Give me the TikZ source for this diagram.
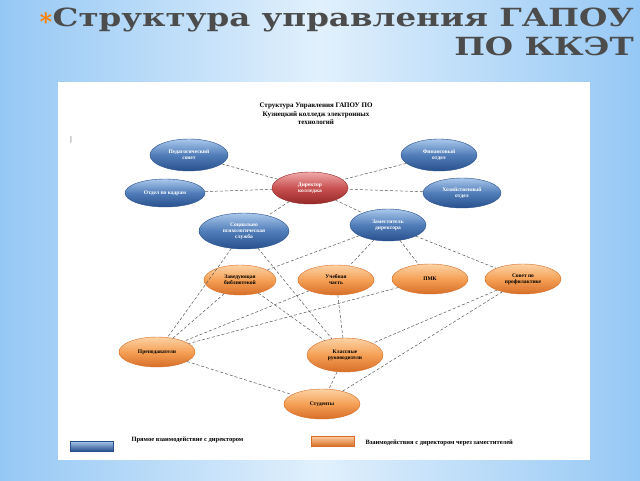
\documentclass[tikz,border=0pt]{standalone}
\usepackage{fontspec}
\setmainfont{Liberation Serif}
\newfontfamily\titlefont{DejaVu Serif}
\usetikzlibrary{shapes.geometric,shadings}
\definecolor{bTop}{RGB}{170,200,235}
\definecolor{bMid}{RGB}{80,125,185}
\definecolor{bBot}{RGB}{40,80,140}
\definecolor{oTop}{RGB}{252,210,165}
\definecolor{oMid}{RGB}{245,160,85}
\definecolor{oBot}{RGB}{215,110,40}
\definecolor{rTop}{RGB}{240,170,170}
\definecolor{rMid}{RGB}{200,80,80}
\definecolor{rBot}{RGB}{150,40,40}
\definecolor{bgA}{RGB}{150,200,245}
\definecolor{bgB}{RGB}{225,240,252}
\begin{document}
\begin{tikzpicture}[x=1pt,y=-1pt,
 bl/.style={ellipse,draw=bBot,line width=0.4pt,top color=bTop,bottom color=bBot,middle color=bMid,text=white,font=\bfseries\fontsize{5.5}{6}\selectfont,align=center,inner sep=0pt},
 orn/.style={ellipse,draw=oBot,line width=0.4pt,top color=oTop,bottom color=oBot,middle color=oMid,text=black,font=\bfseries\fontsize{5.5}{6}\selectfont,align=center,inner sep=0pt},
 rd/.style={ellipse,draw=rBot,line width=0.4pt,top color=rTop,bottom color=rBot,middle color=rMid,text=white,font=\bfseries\fontsize{5.5}{6}\selectfont,align=center,inner sep=0pt},
 ln/.style={densely dashed,gray!70!black,line width=0.5pt}]
\useasboundingbox (0,0) rectangle (640,480);
\shade[left color=bgA,right color=bgA,middle color=bgB] (0,0) rectangle (640,480);
\fill[white] (58,82) rectangle (590,460);
\node[text=orange,font=\titlefont\bfseries\fontsize{24}{24}\selectfont] (star) at (46,22) {*};
\node[text=black!70,font=\titlefont\bfseries\fontsize{25}{29}\selectfont,align=right,anchor=north east,xscale=1.3,inner sep=0pt] (title) at (634,8) {Структура управления ГАПОУ\\ПО ККЭТ};
\node[font=\bfseries\fontsize{7}{8.5}\selectfont,align=center] (ht) at (316,114) {Структура  Управления ГАПОУ ПО\\Кузнецкий колледж электронных\\технологий};
\node[font=\fontsize{7}{7}\selectfont] (bar) at (71,140) {|};
\node[bl,minimum width=78,minimum height=32] (ped) at (189,155) {Педагогический\\совет};
\node[bl,minimum width=76,minimum height=32] (fin) at (439,155) {Финансовый\\отдел};
\node[bl,minimum width=80,minimum height=28] (kad) at (165,193) {Отдел по кадрам};
\node[rd,minimum width=76,minimum height=32] (dir) at (310,188) {Директор\\колледжа};
\node[bl,minimum width=78,minimum height=30] (hoz) at (462,193) {Хозяйственный\\отдел};
\node[bl,minimum width=90,minimum height=36] (soc) at (244,231) {Социально\\психологическая\\служба};
\node[bl,minimum width=76,minimum height=32] (zam) at (388,225) {Заместитель\\директора};
\node[orn,minimum width=72,minimum height=30] (bib) at (240,280) {Заведующая\\библиотекой};
\node[orn,minimum width=76,minimum height=30] (uch) at (336,280) {Учебная\\часть};
\node[orn,minimum width=76,minimum height=30] (pmk) at (430,279) {ПМК};
\node[orn,minimum width=76,minimum height=30] (sov) at (523,279) {Совет по\\профилактике};
\node[orn,minimum width=76,minimum height=30] (pre) at (157,352) {Преподаватели};
\node[orn,minimum width=76,minimum height=34] (kla) at (345,355) {Классные\\руководители};
\node[orn,minimum width=76,minimum height=30] (stu) at (322,404) {Студенты};
\foreach \a/\b in {ped/dir,fin/dir,kad/dir,hoz/dir,dir/soc,dir/zam,soc/pre,soc/kla,zam/bib,zam/uch,zam/pmk,zam/sov,bib/pre,bib/kla,uch/pre,uch/kla,pmk/pre,sov/kla,sov/stu,pre/stu,kla/stu}
  \draw[ln] (\a) -- (\b);
\node[rectangle,minimum width=43,minimum height=10,top color=bTop,bottom color=bBot,draw=bBot,inner sep=0] (lb) at (92,446) {};
\node[rectangle,minimum width=43,minimum height=10,top color=oTop,bottom color=oBot,draw=oBot,inner sep=0] (lo) at (333,441) {};
\node[font=\bfseries\fontsize{6.5}{6.5}\selectfont,anchor=west] (lbt) at (128,440) {Прямое взаимодействие с директором};
\node[font=\bfseries\fontsize{6.5}{6.5}\selectfont,anchor=west] (lot) at (362,443) {Взаимодействия с директором через заместителей};
\end{tikzpicture}
\end{document}
